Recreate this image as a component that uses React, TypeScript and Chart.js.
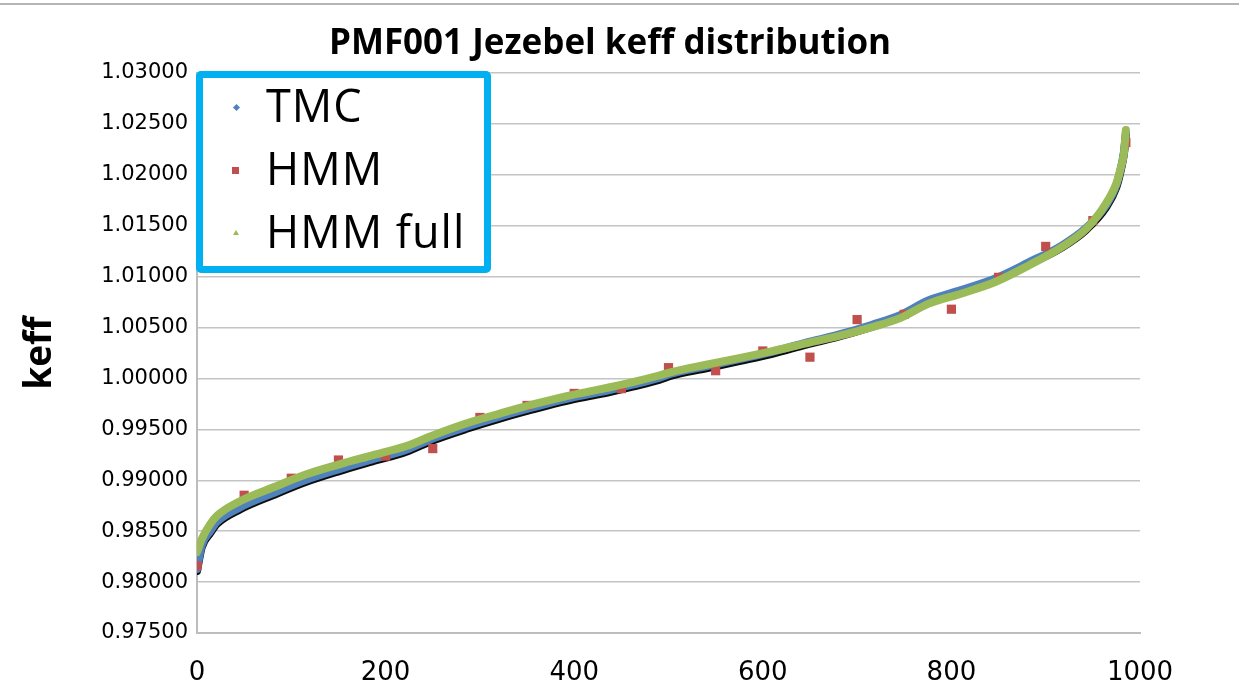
import React, { useEffect, useRef } from "react";
import { Chart, registerables } from "chart.js";

Chart.register(...registerables);

const TITLE = "PMF001 Jezebel keff distribution";
const Y_TITLE = "keff";
const X_TICKS = [0, 200, 400, 600, 800, 1000];
const Y_TICKS = [0.975, 0.98, 0.985, 0.99, 0.995, 1.0, 1.005, 1.01, 1.015, 1.02, 1.025, 1.03];
const SERIES_NAMES = ["TMC", "HMM", "HMM full"];

const TMC_X = [0, 5, 14, 21, 46, 81, 116, 151, 186, 222, 250, 286, 321, 356, 392, 427, 462, 490, 504, 540, 575, 610, 646, 681, 716, 745, 776, 811, 847, 882, 917, 943, 964, 975, 980, 983, 985];
const TMC_Y = [0.9813, 0.9836, 0.985, 0.9859, 0.98735, 0.98875, 0.99005, 0.9911, 0.99205, 0.993, 0.9941, 0.99525, 0.99625, 0.99715, 0.998, 0.99865, 0.9994, 1.00005, 1.0005, 1.0012, 1.0019, 1.00262, 1.00352, 1.00432, 1.00528, 1.0062, 1.00768, 1.0087, 1.00985, 1.0114, 1.01305, 1.0148, 1.017, 1.019, 1.0208, 1.02228, 1.02412];

const FULL_X = [0, 5, 14, 21, 46, 81, 116, 151, 186, 222, 250, 286, 321, 356, 392, 427, 462, 490, 504, 540, 575, 610, 646, 681, 716, 745, 776, 811, 847, 882, 917, 943, 964, 975, 980, 983, 985];
const FULL_Y = [0.98294, 0.98422, 0.98569, 0.9865, 0.98797, 0.98931, 0.99059, 0.99157, 0.99245, 0.99336, 0.9944, 0.9956, 0.99655, 0.99745, 0.99827, 0.99892, 0.99964, 1.00029, 1.00065, 1.00135, 1.002, 1.00268, 1.00345, 1.00418, 1.00505, 1.0059, 1.00735, 1.00835, 1.0095, 1.0111, 1.0129, 1.0147, 1.0172, 1.01919, 1.02082, 1.02216, 1.02441];

const HMM_X = [0, 50, 100, 150, 200, 250, 300, 350, 400, 450, 500, 550, 600, 650, 700, 750, 800, 850, 900, 950, 985];
const HMM_Y = [0.9816, 0.98853, 0.9902, 0.99199, 0.99238, 0.99311, 0.99617, 0.99735, 0.99853, 0.999, 1.00106, 1.00076, 1.0027, 1.00209, 1.00578, 1.0063, 1.0068, 1.00993, 1.01297, 1.0155, 1.02317];

const BLUE = "#4f81bd";
const RED = "#c0504d";
const GREEN = "#9bbb59";

const toPts = (xs: number[], ys: number[]) => xs.map((x, i) => ({ x, y: ys[i] }));

const tmcShadow = {
  id: "tmcShadow",
  beforeDatasetDraw(chart: any, args: any) {
    if (args.index === 2) {
      chart.ctx.save();
      chart.ctx.shadowColor = "rgba(0,0,0,0.95)";
      chart.ctx.shadowOffsetY = 2;
      chart.ctx.shadowBlur = 0;
    }
  },
  afterDatasetDraw(chart: any, args: any) {
    if (args.index === 2) chart.ctx.restore();
  },
};

export default function App() {
  const ref = useRef<HTMLCanvasElement | null>(null);
  useEffect(() => {
    if (!ref.current) return;
    const chart = new Chart(ref.current, {
      type: "scatter",
      data: {
        datasets: [
          {
            label: SERIES_NAMES[2],
            data: toPts(FULL_X, FULL_Y),
            showLine: true,
            borderColor: GREEN,
            backgroundColor: GREEN,
            borderWidth: 8,
            borderCapStyle: "round",
            borderJoinStyle: "round",
            cubicInterpolationMode: "monotone",
            pointRadius: 0,
            order: 0,
          },
          {
            label: SERIES_NAMES[1],
            data: toPts(HMM_X, HMM_Y),
            showLine: false,
            pointStyle: "rect",
            pointRadius: 6.5,
            backgroundColor: RED,
            borderColor: RED,
            borderWidth: 0,
            order: 1,
          },
          {
            label: SERIES_NAMES[0],
            data: toPts(TMC_X, TMC_Y),
            showLine: true,
            borderColor: BLUE,
            backgroundColor: BLUE,
            borderWidth: 8,
            borderCapStyle: "round",
            borderJoinStyle: "round",
            cubicInterpolationMode: "monotone",
            pointRadius: 0,
            order: 2,
          },
        ],
      } as any,
      options: {
        animation: false,
        responsive: false,
        layout: { padding: { left: 0, right: 99, top: 73, bottom: 0 } },
        plugins: {
          legend: { display: false },
          tooltip: { enabled: false },
          title: { display: false },
        },
        scales: {
          x: {
            type: "linear",
            min: 0,
            max: 1000,
            afterBuildTicks: (s: any) => {
              s.ticks = X_TICKS.map((v) => ({ value: v }));
            },
            afterFit: (s: any) => {
              s.height = 58;
            },
            grid: { display: false, drawTicks: false },
            border: { display: true, color: "#bdbdbd", width: 2 },
            ticks: {
              color: "#000",
              padding: 25,
              maxRotation: 0,
              font: { family: "'DejaVu Sans'", size: 26 },
              callback: (v: any) => String(v),
            },
          },
          y: {
            type: "linear",
            min: 0.975,
            max: 1.03,
            afterBuildTicks: (s: any) => {
              s.ticks = Y_TICKS.map((v) => ({ value: v }));
            },
            afterFit: (s: any) => {
              s.width = 197;
            },
            grid: { color: "#c4c4c4", lineWidth: 1.5, drawTicks: false },
            border: { display: true, color: "#bdbdbd", width: 2 },
            title: {
              display: true,
              text: Y_TITLE,
              color: "#000",
              font: { family: "'Open Sans'", size: 37, weight: "bold" },
              padding: { top: 18, bottom: 0 },
            },
            ticks: {
              color: "#000",
              padding: 9,
              font: { family: "'DejaVu Sans'", size: 21 },
              callback: (v: any) => Number(v).toFixed(5),
            },
          },
        },
      } as any,
      plugins: [tmcShadow],
    });
    return () => chart.destroy();
  }, []);

  const rowText: React.CSSProperties = {
    position: "absolute",
    left: 63,
    fontFamily: "'Open Sans'",
    fontSize: 45,
    lineHeight: "50px",
    letterSpacing: "1px",
    color: "#000",
    whiteSpace: "nowrap",
  };

  return (
    <div style={{ position: "fixed", left: 0, top: 0, width: 1239, height: 691, background: "#fff", overflow: "hidden" }}>
      <div style={{ position: "absolute", left: 0, top: 3, width: 1239, height: 2, background: "#b5b5b5" }} />
      <canvas ref={ref} width={1239} height={691} style={{ position: "absolute", left: 0, top: 0 }} />
      <div
        style={{
          position: "absolute",
          left: 310,
          top: 21,
          width: 600,
          textAlign: "center",
          fontFamily: "'Open Sans'",
          fontWeight: "bold",
          fontSize: 35,
          lineHeight: "40px",
          color: "#000",
          whiteSpace: "nowrap",
        }}
      >
        {TITLE}
      </div>
      <div
        style={{
          position: "absolute",
          left: 196,
          top: 71,
          width: 295,
          height: 202,
          boxSizing: "border-box",
          border: "7px solid #00b0f0",
          borderRadius: 5,
          background: "#fff",
        }}
      >
        <div style={{ position: "absolute", left: 31, top: 27, width: 5, height: 5, background: BLUE, transform: "rotate(45deg)" }} />
        <div style={{ ...rowText, top: 2 }}>{SERIES_NAMES[0]}</div>
        <div style={{ position: "absolute", left: 29, top: 89, width: 7, height: 7, background: RED }} />
        <div style={{ ...rowText, top: 65 }}>{SERIES_NAMES[1]}</div>
        <div
          style={{
            position: "absolute",
            left: 30,
            top: 152,
            width: 0,
            height: 0,
            borderLeft: "3px solid transparent",
            borderRight: "3px solid transparent",
            borderBottom: "5px solid " + GREEN,
          }}
        />
        <div style={{ ...rowText, top: 128 }}>{SERIES_NAMES[2]}</div>
      </div>
    </div>
  );
}
